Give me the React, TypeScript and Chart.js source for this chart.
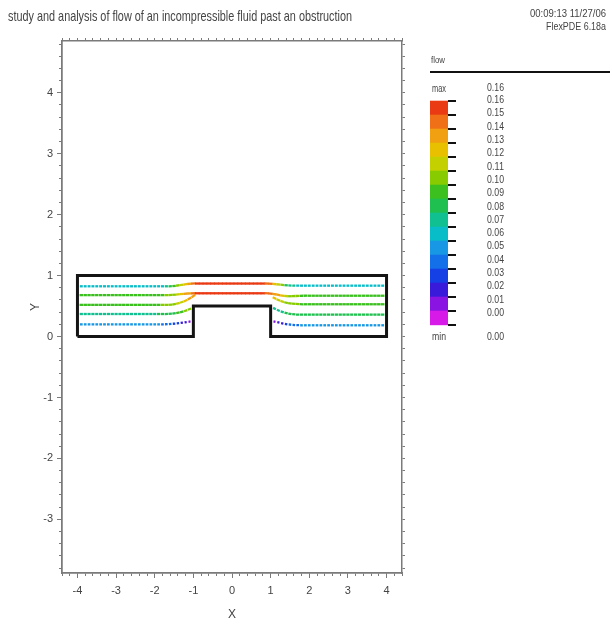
import React, { useEffect, useRef } from 'react';
import { Chart, registerables } from 'chart.js';

Chart.register(...registerables);

// ---------- text ----------
const TITLE = 'study and analysis of flow of an incompressible fluid past an obstruction';
const STAMP = '00:09:13 11/27/06';
const VERSION = 'FlexPDE 6.18a';
const LEGEND_TITLE = 'flow';
const X_TITLE = 'X';
const Y_TITLE = 'Y';

// ---------- axes ----------
const X_RANGE = [-4.4, 4.4];
const Y_RANGE = [-3.88, 4.85];
const X_TICKS = [-4, -3, -2, -1, 0, 1, 2, 3, 4];
const Y_TICKS = [-3, -2, -1, 0, 1, 2, 3, 4];
const MINOR_STEP = 0.2;

// ---------- domain boundary (channel with obstruction) ----------
const BOUNDARY_X = [-4, -4, 4, 4, 1, 1, -1, -1, -4];
const BOUNDARY_Y = [0, 1, 1, 0, 0, 0.5, 0.5, 0, 0];

// ---------- colour scale (bottom band -> top band) ----------
const PALETTE = [
  '#d81ae8', '#8a14e2', '#3a1ada', '#1440e6', '#1470e8', '#1898e4', '#08bcc8', '#10c090',
  '#20c050', '#3cc020', '#88cc00', '#c4d000', '#e8c000', '#f0a010', '#f07018', '#ea3a14',
];
const SPEED_STEP = 0.01;
const LEGEND_MAX = '0.16';
const LEGEND_MIN = '0.00';
const LEGEND_LABELS = [
  '0.16', '0.15', '0.14', '0.13', '0.12', '0.11', '0.10', '0.09', '0.08',
  '0.07', '0.06', '0.05', '0.04', '0.03', '0.02', '0.01', '0.00',
];

// ---------- flow vectors: x grid and per-row y position / speed ----------
const XS = [
  -3.9, -3.8, -3.7, -3.6, -3.5, -3.4, -3.3, -3.2, -3.1, -3.0,
  -2.9, -2.8, -2.7, -2.6, -2.5, -2.4, -2.3, -2.2, -2.1, -2.0,
  -1.9, -1.8, -1.7, -1.6, -1.5, -1.4, -1.3, -1.2, -1.1, -1.0,
  -0.9, -0.8, -0.7, -0.6, -0.5, -0.4, -0.3, -0.2, -0.1, 0.0,
  0.1, 0.2, 0.3, 0.4, 0.5, 0.6, 0.7, 0.8, 0.9, 1.0,
  1.1, 1.2, 1.3, 1.4, 1.5, 1.6, 1.7, 1.8, 1.9, 2.0,
  2.1, 2.2, 2.3, 2.4, 2.5, 2.6, 2.7, 2.8, 2.9, 3.0,
  3.1, 3.2, 3.3, 3.4, 3.5, 3.6, 3.7, 3.8, 3.9,
];

const ROW_A_Y = [
  0.825, 0.825, 0.825, 0.825, 0.825, 0.825, 0.825, 0.825, 0.825, 0.825,
  0.825, 0.825, 0.825, 0.825, 0.825, 0.825, 0.825, 0.825, 0.825, 0.825,
  0.825, 0.825, 0.825, 0.825, 0.83, 0.838, 0.848, 0.858, 0.866, 0.87,
  0.87, 0.87, 0.87, 0.87, 0.87, 0.87, 0.87, 0.87, 0.87, 0.87,
  0.87, 0.87, 0.87, 0.87, 0.87, 0.87, 0.87, 0.87, 0.87, 0.868,
  0.862, 0.855, 0.848, 0.842, 0.838, 0.836, 0.835, 0.835, 0.835, 0.835,
  0.835, 0.835, 0.835, 0.835, 0.835, 0.835, 0.835, 0.835, 0.835, 0.835,
  0.835, 0.835, 0.835, 0.835, 0.835, 0.835, 0.835, 0.835, 0.835,
];
const ROW_A_S = [
  0.062, 0.062, 0.062, 0.062, 0.062, 0.062, 0.062, 0.062, 0.062, 0.062,
  0.062, 0.062, 0.062, 0.062, 0.062, 0.062, 0.062, 0.062, 0.062, 0.062,
  0.064, 0.068, 0.074, 0.082, 0.09, 0.1, 0.112, 0.126, 0.138, 0.146,
  0.15, 0.152, 0.152, 0.152, 0.152, 0.152, 0.152, 0.152, 0.152, 0.152,
  0.152, 0.152, 0.152, 0.152, 0.152, 0.152, 0.152, 0.15, 0.146, 0.14,
  0.128, 0.114, 0.1, 0.088, 0.078, 0.07, 0.066, 0.064, 0.062, 0.062,
  0.062, 0.062, 0.062, 0.062, 0.062, 0.062, 0.062, 0.062, 0.062, 0.062,
  0.062, 0.062, 0.062, 0.062, 0.062, 0.062, 0.062, 0.062, 0.062,
];

const ROW_B_Y = [
  0.68, 0.68, 0.68, 0.68, 0.68, 0.68, 0.68, 0.68, 0.68, 0.68,
  0.68, 0.68, 0.68, 0.68, 0.68, 0.68, 0.68, 0.68, 0.68, 0.68,
  0.68, 0.68, 0.68, 0.682, 0.686, 0.692, 0.698, 0.704, 0.708, 0.71,
  0.71, 0.71, 0.71, 0.71, 0.71, 0.71, 0.71, 0.71, 0.71, 0.71,
  0.71, 0.71, 0.71, 0.71, 0.71, 0.71, 0.71, 0.71, 0.71, 0.706,
  0.696, 0.684, 0.672, 0.664, 0.662, 0.664, 0.667, 0.669, 0.67, 0.67,
  0.67, 0.67, 0.67, 0.67, 0.67, 0.67, 0.67, 0.67, 0.67, 0.67,
  0.67, 0.67, 0.67, 0.67, 0.67, 0.67, 0.67, 0.67, 0.67,
];
const ROW_B_S = [
  0.092, 0.092, 0.092, 0.092, 0.092, 0.092, 0.092, 0.092, 0.092, 0.092,
  0.092, 0.092, 0.092, 0.092, 0.092, 0.092, 0.092, 0.092, 0.092, 0.092,
  0.094, 0.097, 0.1, 0.104, 0.108, 0.114, 0.122, 0.13, 0.138, 0.146,
  0.152, 0.155, 0.155, 0.155, 0.155, 0.155, 0.155, 0.155, 0.155, 0.155,
  0.155, 0.155, 0.155, 0.155, 0.155, 0.155, 0.155, 0.152, 0.148, 0.144,
  0.138, 0.13, 0.122, 0.114, 0.108, 0.104, 0.1, 0.097, 0.095, 0.095,
  0.095, 0.095, 0.095, 0.095, 0.095, 0.095, 0.095, 0.095, 0.095, 0.095,
  0.095, 0.095, 0.095, 0.095, 0.095, 0.095, 0.095, 0.095, 0.095,
];

const ROW_C_Y = [
  0.52, 0.52, 0.52, 0.52, 0.52, 0.52, 0.52, 0.52, 0.52, 0.52,
  0.52, 0.52, 0.52, 0.52, 0.52, 0.52, 0.52, 0.52, 0.52, 0.52,
  0.52, 0.52, 0.52, 0.522, 0.53, 0.545, 0.565, 0.59, 0.625, 0.665,
  null, null, null, null, null, null, null, null, null, null,
  null, null, null, null, null, null, null, null, null, null,
  0.63, 0.6, 0.575, 0.556, 0.545, 0.538, 0.533, 0.53, 0.53, 0.53,
  0.53, 0.53, 0.53, 0.53, 0.53, 0.53, 0.53, 0.53, 0.53, 0.53,
  0.53, 0.53, 0.53, 0.53, 0.53, 0.53, 0.53, 0.53, 0.53,
];
const ROW_C_S = [
  0.098, 0.098, 0.098, 0.098, 0.098, 0.098, 0.098, 0.098, 0.098, 0.098,
  0.098, 0.098, 0.098, 0.098, 0.098, 0.098, 0.098, 0.098, 0.098, 0.098,
  0.099, 0.1, 0.102, 0.105, 0.108, 0.112, 0.118, 0.124, 0.13, 0.136,
  null, null, null, null, null, null, null, null, null, null,
  null, null, null, null, null, null, null, null, null, null,
  0.125, 0.118, 0.112, 0.107, 0.104, 0.102, 0.1, 0.098, 0.098, 0.098,
  0.098, 0.098, 0.098, 0.098, 0.098, 0.098, 0.098, 0.098, 0.098, 0.098,
  0.098, 0.098, 0.098, 0.098, 0.098, 0.098, 0.098, 0.098, 0.098,
];

const ROW_D_Y = [
  0.37, 0.37, 0.37, 0.37, 0.37, 0.37, 0.37, 0.37, 0.37, 0.37,
  0.37, 0.37, 0.37, 0.37, 0.37, 0.37, 0.37, 0.37, 0.37, 0.37,
  0.37, 0.37, 0.37, 0.374, 0.38, 0.39, 0.405, 0.425, 0.45, null,
  null, null, null, null, null, null, null, null, null, null,
  null, null, null, null, null, null, null, null, null, null,
  0.46, 0.43, 0.405, 0.386, 0.373, 0.365, 0.36, 0.36, 0.36, 0.36,
  0.36, 0.36, 0.36, 0.36, 0.36, 0.36, 0.36, 0.36, 0.36, 0.36,
  0.36, 0.36, 0.36, 0.36, 0.36, 0.36, 0.36, 0.36, 0.36,
];
const ROW_D_S = [
  0.079, 0.079, 0.079, 0.079, 0.079, 0.079, 0.079, 0.079, 0.079, 0.079,
  0.079, 0.079, 0.079, 0.079, 0.079, 0.079, 0.079, 0.079, 0.079, 0.079,
  0.08, 0.081, 0.083, 0.086, 0.089, 0.093, 0.097, 0.1, 0.1, null,
  null, null, null, null, null, null, null, null, null, null,
  null, null, null, null, null, null, null, null, null, null,
  0.07, 0.073, 0.077, 0.08, 0.082, 0.083, 0.083, 0.083, 0.083, 0.083,
  0.083, 0.083, 0.083, 0.083, 0.083, 0.083, 0.083, 0.083, 0.083, 0.083,
  0.083, 0.083, 0.083, 0.083, 0.083, 0.083, 0.083, 0.083, 0.083,
];

const ROW_E_Y = [
  0.2, 0.2, 0.2, 0.2, 0.2, 0.2, 0.2, 0.2, 0.2, 0.2,
  0.2, 0.2, 0.2, 0.2, 0.2, 0.2, 0.2, 0.2, 0.2, 0.2,
  0.2, 0.2, 0.203, 0.207, 0.212, 0.218, 0.226, 0.235, 0.245, null,
  null, null, null, null, null, null, null, null, null, null,
  null, null, null, null, null, null, null, null, null, null,
  0.245, 0.232, 0.218, 0.205, 0.196, 0.19, 0.187, 0.185, 0.185, 0.185,
  0.185, 0.185, 0.185, 0.185, 0.185, 0.185, 0.185, 0.185, 0.185, 0.185,
  0.185, 0.185, 0.185, 0.185, 0.185, 0.185, 0.185, 0.185, 0.185,
];
const ROW_E_S = [
  0.052, 0.052, 0.052, 0.052, 0.052, 0.052, 0.052, 0.052, 0.052, 0.052,
  0.052, 0.052, 0.052, 0.052, 0.052, 0.052, 0.052, 0.052, 0.052, 0.052,
  0.05, 0.047, 0.044, 0.04, 0.036, 0.031, 0.026, 0.02, 0.012, null,
  null, null, null, null, null, null, null, null, null, null,
  null, null, null, null, null, null, null, null, null, null,
  0.012, 0.02, 0.028, 0.035, 0.04, 0.045, 0.048, 0.05, 0.052, 0.052,
  0.052, 0.052, 0.052, 0.052, 0.052, 0.052, 0.052, 0.052, 0.052, 0.052,
  0.052, 0.052, 0.052, 0.052, 0.052, 0.052, 0.052, 0.052, 0.052,
];

const ROWS = [
  { ys: ROW_A_Y, speeds: ROW_A_S },
  { ys: ROW_B_Y, speeds: ROW_B_S },
  { ys: ROW_C_Y, speeds: ROW_C_S },
  { ys: ROW_D_Y, speeds: ROW_D_S },
  { ys: ROW_E_Y, speeds: ROW_E_S },
];

// ---------- styling ----------
const FONT = "'Liberation Sans Narrow', 'Arial Narrow', 'Liberation Sans', Arial, sans-serif";
const TEXT_COLOR = '#444';
const AXIS_COLOR = '#7a7a7a';

function colorFor(s: number | null): string {
  if (s == null) return 'rgba(0,0,0,0)';
  const band = Math.min(PALETTE.length - 1, Math.max(0, Math.floor(s / SPEED_STEP + 1e-9)));
  return PALETTE[band];
}

function minorTicks(range: number[]) {
  const out: { value: number }[] = [];
  const start = Math.ceil(range[0] / MINOR_STEP - 1e-9);
  const end = Math.floor(range[1] / MINOR_STEP + 1e-9);
  for (let k = start; k <= end; k++) out.push({ value: Math.round(k * MINOR_STEP * 1000) / 1000 });
  return out;
}

const rotationFor = (ys: (number | null)[]) => (ctx: any) => {
  const i = ctx.dataIndex;
  const sx = ctx.chart.scales.x;
  const sy = ctx.chart.scales.y;
  if (!sx || !sy || ys[i] == null) return 0;
  const ip = i > 0 && ys[i - 1] != null ? i - 1 : i;
  const inx = i < ys.length - 1 && ys[i + 1] != null ? i + 1 : i;
  if (ip === inx) return 0;
  const dx = sx.getPixelForValue(XS[inx]) - sx.getPixelForValue(XS[ip]);
  const dy = sy.getPixelForValue(ys[inx] as number) - sy.getPixelForValue(ys[ip] as number);
  return (Math.atan2(dy, dx) * 180) / Math.PI;
};

const decorPlugin = {
  id: 'decor',
  afterDraw(chart: any) {
    const ctx = chart.ctx as CanvasRenderingContext2D;
    ctx.save();
    ctx.fillStyle = TEXT_COLOR;
    ctx.textBaseline = 'middle';
    ctx.textAlign = 'left';
    ctx.font = `15px ${FONT}`;
    ctx.fillText(TITLE, 8, 17, 344);
    ctx.font = `11px ${FONT}`;
    ctx.textAlign = 'right';
    ctx.fillText(STAMP, 606, 14, 76);
    ctx.fillText(VERSION, 606, 27, 60);

    // legend header
    ctx.textAlign = 'left';
    ctx.font = `9px ${FONT}`;
    ctx.fillText(LEGEND_TITLE, 431, 61, 14);
    ctx.strokeStyle = '#111';
    ctx.lineWidth = 2;
    ctx.beginPath();
    ctx.moveTo(430, 72);
    ctx.lineTo(610, 72);
    ctx.stroke();

    // colour bar
    const barL = 430, barW = 18, barTop = 100.7, bandH = 14;
    const n = PALETTE.length;
    for (let k = 0; k < n; k++) {
      ctx.fillStyle = PALETTE[n - 1 - k];
      ctx.fillRect(barL, barTop + k * bandH, barW, bandH + 0.5);
    }
    ctx.strokeStyle = '#111';
    ctx.lineWidth = 2;
    for (let k = 0; k <= n; k++) {
      const y = Math.round(barTop + k * bandH);
      ctx.beginPath();
      ctx.moveTo(barL + barW, y);
      ctx.lineTo(barL + barW + 8, y);
      ctx.stroke();
    }

    // labels
    ctx.fillStyle = TEXT_COLOR;
    ctx.font = `11px ${FONT}`;
    ctx.fillText('max', 432, 89, 14);
    ctx.fillText(LEGEND_MAX, 487, 88, 17);
    const labTop = 100, labStep = (313 - 100) / (LEGEND_LABELS.length - 1);
    LEGEND_LABELS.forEach((t, k) => ctx.fillText(t, 487, labTop + k * labStep, 17));
    ctx.fillText('min', 432, 337, 14);
    ctx.fillText(LEGEND_MIN, 487, 337, 17);
    ctx.restore();
  },
};

function buildConfig(): any {
  const tickFont = { family: FONT, size: 11 };
  const datasets: any[] = [
    {
      label: 'boundary',
      data: BOUNDARY_X.map((x, i) => ({ x, y: BOUNDARY_Y[i] })),
      showLine: true,
      borderColor: '#141414',
      borderWidth: 3,
      borderJoinStyle: 'miter',
      pointRadius: 0,
      fill: false,
      order: 0,
    },
  ];
  ROWS.forEach((row, r) => {
    datasets.push({
      label: 'row' + r,
      data: XS.map((x, i) => ({ x, y: row.ys[i] })),
      showLine: false,
      pointStyle: 'line',
      pointRadius: (ctx: any) => {
        const s = row.speeds[ctx.dataIndex];
        return s == null ? 0 : 0.9 + 9 * s;
      },
      pointBorderWidth: 2.3,
      pointBorderColor: (ctx: any) => colorFor(row.speeds[ctx.dataIndex]),
      pointBackgroundColor: (ctx: any) => colorFor(row.speeds[ctx.dataIndex]),
      pointRotation: rotationFor(row.ys),
      order: 1,
    });
  });

  const baseGrid = { drawOnChartArea: false, color: AXIS_COLOR, tickColor: AXIS_COLOR, tickWidth: 1 };
  const border = { display: true, color: AXIS_COLOR, width: 1.5 };

  return {
    type: 'scatter',
    data: { datasets },
    plugins: [decorPlugin],
    options: {
      responsive: false,
      animation: false,
      events: [],
      devicePixelRatio: 1,
      layout: { padding: { left: 24, right: 210, top: 41, bottom: 0 } },
      plugins: { legend: { display: false }, tooltip: { enabled: false }, title: { display: false } },
      scales: {
        x: {
          type: 'linear', position: 'bottom', weight: 1,
          min: X_RANGE[0], max: X_RANGE[1], bounds: 'data',
          afterBuildTicks: (axis: any) => { axis.ticks = X_TICKS.map((v) => ({ value: v })); },
          afterFit: (s: any) => { s.height = 53; },
          ticks: { autoSkip: false, maxRotation: 0, padding: 6, color: TEXT_COLOR, font: tickFont, callback: (v: any) => String(v) },
          grid: { ...baseGrid, tickLength: 5 },
          border,
          title: { display: true, text: X_TITLE, color: TEXT_COLOR, font: { family: FONT, size: 12 } },
        },
        xMinor: {
          type: 'linear', position: 'bottom', weight: 0,
          min: X_RANGE[0], max: X_RANGE[1], bounds: 'data',
          afterBuildTicks: (axis: any) => { axis.ticks = minorTicks(X_RANGE); },
          afterFit: (s: any) => { s.height = 0; },
          ticks: { display: false, autoSkip: false },
          grid: { ...baseGrid, tickLength: 3 },
          border,
        },
        xTop: {
          type: 'linear', position: 'top',
          min: X_RANGE[0], max: X_RANGE[1], bounds: 'data',
          afterBuildTicks: (axis: any) => { axis.ticks = minorTicks(X_RANGE); },
          afterFit: (s: any) => { s.height = 0; },
          ticks: { display: false, autoSkip: false },
          grid: { ...baseGrid, tickLength: 3 },
          border,
        },
        y: {
          type: 'linear', position: 'left', weight: 1,
          min: Y_RANGE[0], max: Y_RANGE[1], bounds: 'data',
          afterBuildTicks: (axis: any) => { axis.ticks = Y_TICKS.map((v) => ({ value: v })); },
          afterFit: (s: any) => { s.width = 38; },
          ticks: { autoSkip: false, padding: 4, color: TEXT_COLOR, font: tickFont, callback: (v: any) => String(v) },
          grid: { ...baseGrid, tickLength: 5 },
          border,
          title: { display: true, text: Y_TITLE, color: TEXT_COLOR, font: { family: FONT, size: 12 } },
        },
        yMinor: {
          type: 'linear', position: 'left', weight: 0,
          min: Y_RANGE[0], max: Y_RANGE[1], bounds: 'data',
          afterBuildTicks: (axis: any) => { axis.ticks = minorTicks(Y_RANGE); },
          afterFit: (s: any) => { s.width = 0; },
          ticks: { display: false, autoSkip: false },
          grid: { ...baseGrid, tickLength: 3 },
          border,
        },
        yRight: {
          type: 'linear', position: 'right',
          min: Y_RANGE[0], max: Y_RANGE[1], bounds: 'data',
          afterBuildTicks: (axis: any) => { axis.ticks = minorTicks(Y_RANGE); },
          afterFit: (s: any) => { s.width = 0; },
          ticks: { display: false, autoSkip: false },
          grid: { ...baseGrid, tickLength: 3 },
          border,
        },
      },
    },
  };
}

export default function App() {
  const ref = useRef<HTMLCanvasElement>(null);
  useEffect(() => {
    if (!ref.current) return;
    const chart = new Chart(ref.current, buildConfig());
    return () => chart.destroy();
  }, []);
  return (
    <div style={{ position: 'fixed', left: 0, top: 0, width: 612, height: 626, background: '#fff' }}>
      <canvas ref={ref} width={612} height={626} style={{ display: 'block', width: 612, height: 626 }} />
    </div>
  );
}
